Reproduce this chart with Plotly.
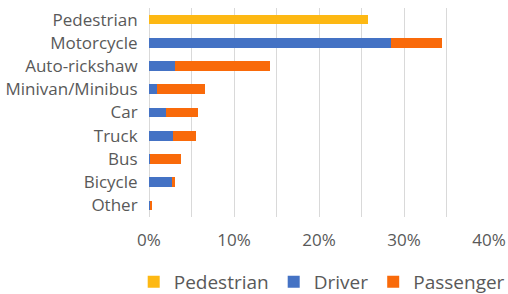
import plotly.graph_objects as go

categories = ["Pedestrian", "Motorcycle", "Auto-rickshaw", "Minivan/Minibus", "Car",
              "Truck", "Bus", "Bicycle", "Other"]
pedestrian = [0.258, 0, 0, 0, 0, 0, 0, 0, 0]
driver = [0, 0.285, 0.031, 0.009, 0.020, 0.028, 0.0015, 0.028, 0.001]
passenger = [0, 0.060, 0.111, 0.057, 0.038, 0.027, 0.036, 0.002, 0.003]
x_ticks = [0, 0.1, 0.2, 0.3, 0.4]

font_family = "Open Sans, Noto Sans, sans-serif"
grey = "#595959"

fig = go.Figure()
fig.add_trace(go.Bar(y=categories, x=pedestrian, name="Pedestrian", orientation="h",
                     marker=dict(color="#FDB813", line=dict(width=0))))
fig.add_trace(go.Bar(y=categories, x=driver, name="Driver", orientation="h",
                     marker=dict(color="#4472C4", line=dict(width=0))))
fig.add_trace(go.Bar(y=categories, x=passenger, name="Passenger", orientation="h",
                     marker=dict(color="#F96A0A", line=dict(width=0))))

fig.update_layout(
    barmode="stack",
    bargap=0.58,
    width=508, height=294,
    margin=dict(l=149, r=19, t=8, b=77, autoexpand=False),
    paper_bgcolor="white", plot_bgcolor="white",
    font=dict(family=font_family, color=grey, size=17),
    showlegend=True,
    legend=dict(orientation="h", x=-0.045, xanchor="left",
                y=-0.31, yanchor="middle",
                font=dict(size=19, color=grey), itemwidth=30, traceorder="normal"),
    xaxis=dict(range=[0, 0.4], tickvals=x_ticks, tickformat=".0%", automargin=False,
               showgrid=True, gridcolor="#D9D9D9", gridwidth=1,
               minor=dict(dtick=0.05, showgrid=True, gridcolor="#D9D9D9", gridwidth=1),
               zeroline=True, zerolinecolor="#D9D9D9", zerolinewidth=1,
               showline=False, ticks="outside", ticklen=8,
               tickcolor="rgba(0,0,0,0)", tickfont=dict(size=17, color=grey)),
    yaxis=dict(autorange="reversed", showgrid=False, showline=False, automargin=False,
               ticks="outside", ticklen=7, tickcolor="rgba(0,0,0,0)",
               tickfont=dict(size=17, color=grey)),
)

fig.write_html("out.html", config={"displayModeBar": False},
               post_script="document.body.style.margin='0';document.body.style.padding='0';")
